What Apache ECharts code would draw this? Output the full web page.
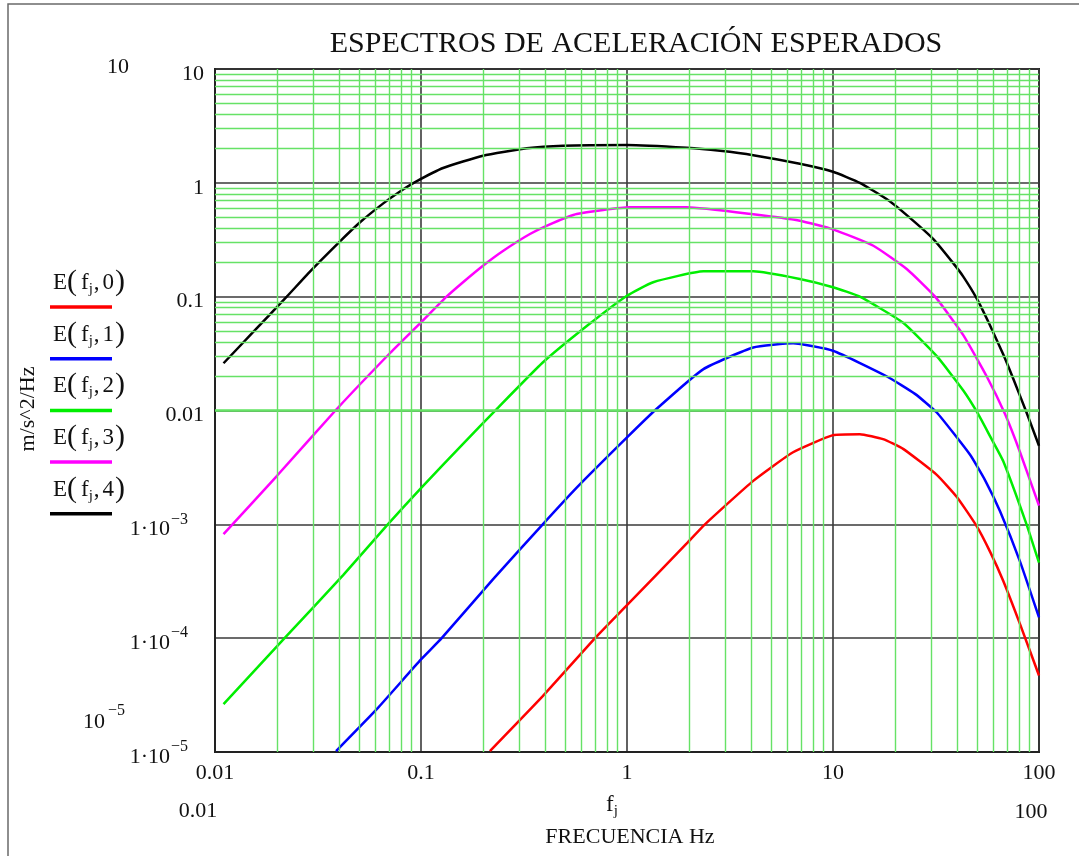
<!DOCTYPE html>
<html>
<head>
<meta charset="utf-8">
<title>Espectros de aceleración esperados</title>
<script src="https://cdn.jsdelivr.net/npm/echarts@6/dist/echarts.min.js"></script>
<style>
  html, body { margin: 0; padding: 0; background: #ffffff; }
  #chart { width: 1079px; height: 856px; }
</style>
</head>
<body>
<div id="chart"></div>
<script>
// Expected acceleration spectra E(f_j, k), k = 0..4, in m/s^2/Hz vs frequency in Hz.
const seriesNames = ['E(fj,0)', 'E(fj,1)', 'E(fj,2)', 'E(fj,3)', 'E(fj,4)'];
const seriesColors = ['#ff0000', '#0000ff', '#00ee00', '#ff00ff', '#000000'];

const E0 = [
  [0.216, 1.02e-5], [0.39, 3.1e-5], [0.71, 1.03e-4], [1.0, 1.95e-4], [1.95, 6.8e-4],
  [2.39, 1.0e-3], [4.1, 2.41e-3], [6.4, 4.3e-3], [10, 6.08e-3], [13.5, 6.2e-3],
  [17.5, 5.6e-3], [21.9, 4.6e-3], [31.9, 2.72e-3], [40.0, 1.73e-3], [49.9, 9.6e-4],
  [58.0, 5.7e-4], [67, 3.2e-4], [80.9, 1.33e-4], [100, 4.7e-5]
];
const E1 = [
  [0.0387, 1.02e-5], [0.061, 2.38e-5], [0.1, 6.5e-5], [0.126, 1.0e-4], [0.224, 3.3e-4],
  [0.39, 1.0e-3], [0.57, 2.1e-3], [1.0, 5.8e-3], [1.39, 0.0103], [2.35, 0.0231],
  [4.1, 0.0358], [6.4, 0.039], [10, 0.0335], [18.2, 0.020], [25.0, 0.0140],
  [31.9, 0.0096], [46.2, 0.0041], [55.0, 2.4e-3], [64.7, 1.3e-3], [80.9, 4.7e-4],
  [100, 1.52e-4]
];
const E2 = [
  [0.011, 2.63e-5], [0.0221, 1.03e-4], [0.042, 3.6e-4], [0.069, 1.0e-3], [0.1, 2.08e-3],
  [0.16, 5.1e-3], [0.233, 0.0103], [0.39, 0.0264], [0.64, 0.0555], [1.0, 0.102],
  [1.34, 0.134], [2.35, 0.167], [4.1, 0.167], [6.9, 0.143], [10, 0.121],
  [13.5, 0.1], [21.9, 0.059], [31.9, 0.030], [42.9, 0.0150], [50.7, 0.0093],
  [58.0, 5.9e-3], [67, 3.6e-3], [87, 1.0e-3], [100, 4.6e-4]
];
const E3 = [
  [0.011, 8.2e-4], [0.02, 2.67e-3], [0.039, 0.0103], [0.0708, 0.032], [0.1, 0.0594],
  [0.133, 0.1], [0.16, 0.134], [0.2, 0.187], [0.251, 0.253], [0.338, 0.355],
  [0.439, 0.445], [0.57, 0.532], [1.03, 0.61], [1.95, 0.61], [4.1, 0.53],
  [6.9, 0.465], [10, 0.39], [15.7, 0.28], [22.8, 0.175], [31.3, 0.1],
  [42.9, 0.046], [55.7, 0.020], [68.4, 0.0093], [80.9, 0.0043], [100, 1.46e-3]
];
const E4 = [
  [0.011, 0.026], [0.01534, 0.049], [0.0223, 0.1], [0.0289, 0.166], [0.04, 0.30],
  [0.0506, 0.45], [0.0656, 0.66], [0.0791, 0.84], [0.095, 1.03], [0.128, 1.35],
  [0.2, 1.73], [0.326, 2.01], [0.49, 2.12], [1.0, 2.15], [1.95, 2.03],
  [2.83, 1.91], [4.1, 1.75], [6.9, 1.47], [10, 1.25], [13.5, 1.0],
  [18.2, 0.72], [22.8, 0.52], [30.7, 0.32], [38.4, 0.196], [42.9, 0.15],
  [49.9, 0.096], [57.8, 0.056], [67.1, 0.031], [75, 0.019], [87, 0.0096],
  [100, 0.0049]
];
const seriesData = [E0, E1, E2, E3, E4];

// Axis ranges and the labels Mathcad prints at the plot limits
const xRange = [0.01, 100];
const yRange = [1e-5, 10];
const xLimitLabels = ['0.01', '100'];
const yLimitLabels = ['10', '10', '\u22125'];

const SERIF = "'Liberation Serif', 'DejaVu Serif', serif";
const TXT = '#111111';

// Minor grid positions (2..9 within each decade)
function minorsBetween(lo, hi) {
  const out = [];
  for (let e = Math.round(Math.log10(lo)); e < Math.round(Math.log10(hi)); e++) {
    for (let k = 2; k <= 9; k++) out.push(k * Math.pow(10, e));
  }
  return out;
}
const xMinor = minorsBetween(xRange[0], xRange[1]);
const yMinor = minorsBetween(yRange[0], yRange[1]);

function fmtX(v) {
  const e = Math.round(Math.log10(v));
  return ['0.01', '0.1', '1', '10', '100'][e + 2];
}
function fmtY(v) {
  const e = Math.round(Math.log10(v));
  if (e >= -2) return ['0.01', '0.1', '1', '10'][e + 2];
  return '{a|1\u00b710}{b|\u2212' + (-e) + '}';
}

const chart = echarts.init(document.getElementById('chart'), null, { renderer: 'canvas' });

const GREEN_GRID = '#66e266';
const series = [{
  name: 'minor-grid',
  type: 'line',
  data: [],
  z: 1,
  silent: true,
  markLine: {
    silent: true,
    symbol: ['none', 'none'],
    animation: false,
    label: { show: false },
    emphasis: { disabled: true },
    lineStyle: { color: GREEN_GRID, width: 1.4, type: 'solid', opacity: 1 },
    data: xMinor.map(v => ({ xAxis: v, lineStyle: { color: GREEN_GRID, width: 1.4, type: 'solid' } }))
      .concat(yMinor.map(v => ({ yAxis: v, lineStyle: { color: GREEN_GRID, width: 1.4, type: 'solid' } })))
  }
}];
seriesData.forEach((d, i) => {
  series.push({
    name: seriesNames[i],
    type: 'line',
    data: d,
    z: 3,
    symbol: 'none',
    smooth: 0.15,
    clip: true,
    lineStyle: { color: seriesColors[i], width: 2.5 },
    emphasis: { disabled: true }
  });
});

// Legend drawn Mathcad-style: trace name above a short line sample
const graphics = [];
seriesNames.forEach((name, i) => {
  const k = name.charAt(name.length - 2);
  const yText = 283 + 51.7 * i;
  const yLine = 307 + 51.7 * i;
  graphics.push({
    type: 'text', x: 53, y: yText, silent: true,
    style: {
      text: '{e|E}{p|(}{f|f}{j|j}{c|,}{n|' + k + '}{p|)}',
      align: 'left', verticalAlign: 'middle', textAlign: 'left', textVerticalAlign: 'middle',
      fill: TXT,
      rich: {
        e: { fontFamily: SERIF, fontSize: 23, fill: TXT },
        p: { fontFamily: SERIF, fontSize: 30, fill: TXT, padding: [0, 2, 2, 0] },
        f: { fontFamily: SERIF, fontSize: 23, fill: TXT, padding: [0, 0, 0, 2] },
        j: { fontFamily: SERIF, fontSize: 15, fill: TXT, padding: [12, 1, 0, 0] },
        c: { fontFamily: SERIF, fontSize: 23, fill: TXT, padding: [0, 3, 0, 0] },
        n: { fontFamily: SERIF, fontSize: 23, fill: TXT, padding: [0, 1, 0, 0] }
      }
    }
  });
  graphics.push({
    type: 'line', silent: true,
    shape: { x1: 50, y1: yLine, x2: 112, y2: yLine },
    style: { stroke: seriesColors[i], lineWidth: 3.5 }
  });
});

// Outer frame (top and left edges)
graphics.push({
  type: 'polyline', silent: true,
  shape: { points: [[8, 856], [8, 4], [1079, 4]] },
  style: { stroke: '#6a6a6a', lineWidth: 1.5, fill: null }
});

// Title and axis captions
graphics.push({
  type: 'text', x: 636, y: 44, silent: true,
  style: {
    text: 'ESPECTROS DE ACELERACIÓN ESPERADOS',
    font: '30px ' + SERIF, fill: TXT,
    align: 'center', verticalAlign: 'middle', textAlign: 'center', textVerticalAlign: 'middle'
  }
});
graphics.push({
  type: 'text', x: 28, y: 409, rotation: Math.PI / 2, silent: true,
  style: {
    text: 'm/s^2/Hz', font: '22px ' + SERIF, fill: TXT,
    align: 'center', verticalAlign: 'middle', textAlign: 'center', textVerticalAlign: 'middle'
  }
});
graphics.push({
  type: 'text', x: 612, y: 805, silent: true,
  style: {
    text: '{f|f}{j|j}',
    align: 'center', verticalAlign: 'middle', textAlign: 'center', textVerticalAlign: 'middle',
    rich: {
      f: { fontFamily: SERIF, fontSize: 23, fill: TXT },
      j: { fontFamily: SERIF, fontSize: 15, fill: TXT, padding: [12, 0, 0, 0] }
    }
  }
});
graphics.push({
  type: 'text', x: 630, y: 837, silent: true,
  style: {
    text: 'FRECUENCIA Hz', font: '22px ' + SERIF, fill: TXT,
    align: 'center', verticalAlign: 'middle', textAlign: 'center', textVerticalAlign: 'middle'
  }
});
// Plot-limit labels
graphics.push({
  type: 'text', x: 198, y: 811, silent: true,
  style: { text: xLimitLabels[0], font: '22px ' + SERIF, fill: TXT,
    align: 'center', verticalAlign: 'middle', textAlign: 'center', textVerticalAlign: 'middle' }
});
graphics.push({
  type: 'text', x: 1031, y: 812, silent: true,
  style: { text: xLimitLabels[1], font: '22px ' + SERIF, fill: TXT,
    align: 'center', verticalAlign: 'middle', textAlign: 'center', textVerticalAlign: 'middle' }
});
graphics.push({
  type: 'text', x: 118, y: 67, silent: true,
  style: { text: yLimitLabels[0], font: '22px ' + SERIF, fill: TXT,
    align: 'center', verticalAlign: 'middle', textAlign: 'center', textVerticalAlign: 'middle' }
});
graphics.push({
  type: 'text', x: 83, y: 722, silent: true,
  style: {
    text: '{a|' + yLimitLabels[1] + '}{b|' + yLimitLabels[2] + '}',
    align: 'left', verticalAlign: 'middle', textAlign: 'left', textVerticalAlign: 'middle',
    rich: {
      a: { fontFamily: SERIF, fontSize: 22, fill: TXT },
      b: { fontFamily: SERIF, fontSize: 16, fill: TXT, padding: [0, 0, 22, 3] }
    }
  }
});

chart.setOption({
  animation: false,
  backgroundColor: '#ffffff',
  grid: {
    left: 215, right: 40, top: 69, bottom: 104,
    show: true, borderColor: '#222222', borderWidth: 2, backgroundColor: 'transparent'
  },
  xAxis: {
    type: 'log', logBase: 10, min: xRange[0], max: xRange[1], splitNumber: 4,
    axisLine: { show: true, lineStyle: { color: '#222222', width: 2 } },
    axisTick: { show: false },
    splitLine: { show: true, lineStyle: { color: '#3a3a3a', width: 1.6 } },
    axisLabel: {
      formatter: fmtX, margin: 10, color: TXT,
      fontFamily: SERIF, fontSize: 22
    }
  },
  yAxis: {
    type: 'log', logBase: 10, min: yRange[0], max: yRange[1], splitNumber: 6,
    axisLine: { show: true, lineStyle: { color: '#222222', width: 2 } },
    axisTick: { show: false },
    splitLine: { show: true, lineStyle: { color: '#3a3a3a', width: 1.6 } },
    axisLabel: {
      formatter: fmtY, margin: 11, color: TXT,
      fontFamily: SERIF, fontSize: 22, padding: [10, 0, 0, 0],
      rich: {
        a: { fontFamily: SERIF, fontSize: 22, color: TXT },
        b: { fontFamily: SERIF, fontSize: 16, color: TXT, padding: [0, 16, 20, 1] }
      }
    }
  },
  graphic: { elements: graphics },
  series: series
});
</script>
</body>
</html>
